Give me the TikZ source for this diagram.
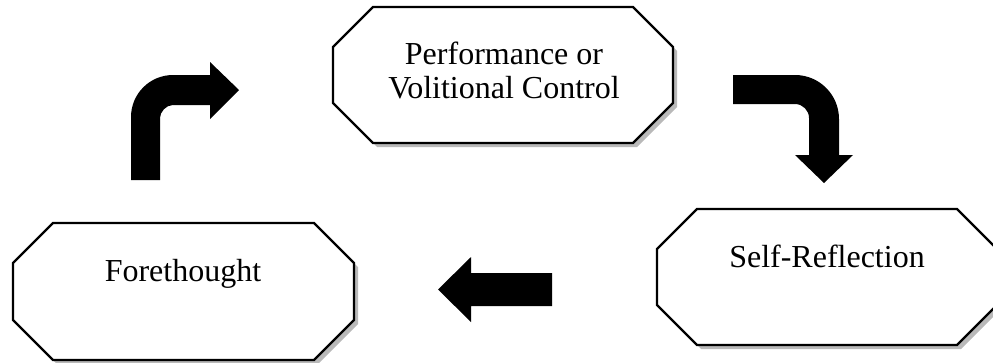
\documentclass[tikz,border=0pt]{standalone}
\usepackage{fontspec}
\setmainfont{Liberation Serif}
\begin{document}
\begin{tikzpicture}[x=1pt,y=-1pt,
  boxline/.style={draw=black,line width=2.4pt,fill=white,line join=miter},
  boxshadow/.style={fill=gray!55},
  blockarrow/.style={fill=black},
  lbl/.style={font=\fontsize{32}{33.5}\selectfont,inner sep=0pt,anchor=base,align=center}]
\useasboundingbox (0,0) rectangle (993,362);
% octagon boxes: L/T/R/B
\foreach \L/\T/\R/\B in {333/7/673/143, 13/223/354/360, 657/209/997/345}{
  \fill[boxshadow,shift={(4,4)}] (\L+40,\T) -- (\R-40,\T) -- (\R,\T+40) -- (\R,\B-40) -- (\R-40,\B) -- (\L+40,\B) -- (\L,\B-40) -- (\L,\T+40) -- cycle;
  \path[boxline] (\L+40,\T) -- (\R-40,\T) -- (\R,\T+40) -- (\R,\B-40) -- (\R-40,\B) -- (\L+40,\B) -- (\L,\B-40) -- (\L,\T+40) -- cycle;
}
\node[lbl] (perf) at (504,98) {Performance or\\Volitional Control};
\node[lbl] (fore) at (183,281) {Forethought};
\node[lbl] (self) at (827,267) {Self-Reflection};
% bent arrow up then right
\fill[blockarrow] (131,180) -- (131,117) .. controls (131,93.8) and (149.8,75) .. (173,75) -- (210,75) -- (210,62) -- (239,90) -- (210,119) -- (210,105) -- (173,105) .. controls (165.8,105) and (160,112.2) .. (160,118) -- (160,180) -- cycle;
% bent arrow right then down
\fill[blockarrow] (733,75) -- (795,75) .. controls (819.3,75) and (839,94.7) .. (839,119) -- (839,155) -- (853,155) -- (824,183) -- (795,155) -- (809,155) -- (809,118) .. controls (809,110.3) and (802.7,104) .. (795,104) -- (733,104) -- cycle;
% arrow left
\fill[blockarrow] (552,273) -- (471,273) -- (471,257) -- (438,289.5) -- (471,322) -- (471,306) -- (552,306) -- cycle;
\end{tikzpicture}
\end{document}
